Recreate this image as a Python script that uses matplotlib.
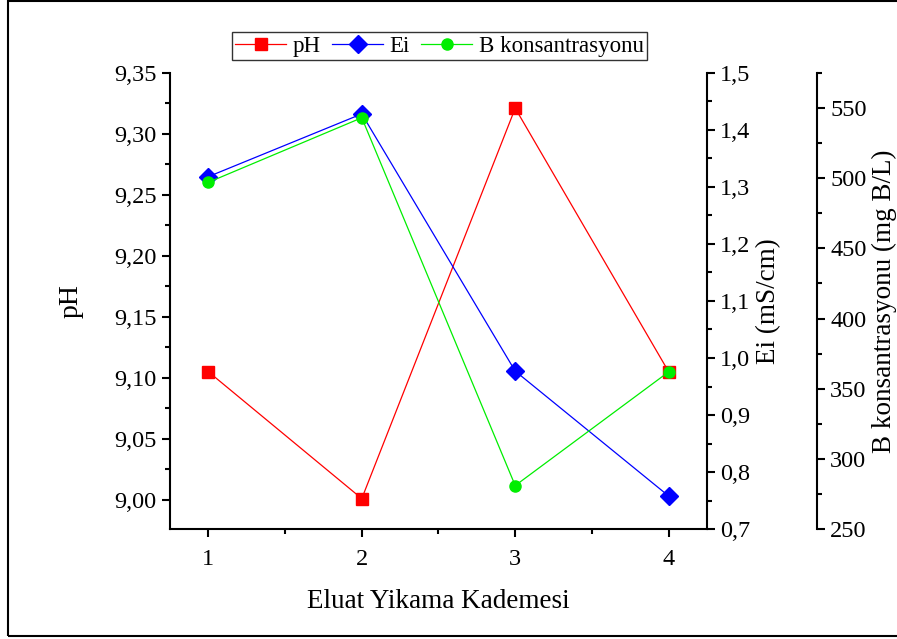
import numpy as np
import matplotlib.pyplot as plt
from matplotlib.ticker import MultipleLocator, FuncFormatter
from matplotlib.patches import Rectangle

plt.rcParams['font.family'] = ['Liberation Serif', 'DejaVu Serif']

# data
kademe = [1, 2, 3, 4]
ph = [9.105, 9.001, 9.321, 9.105]
ei = [1.318, 1.428, 0.977, 0.758]
bkons = [497, 543, 281, 362]


def comma(fmt):
    return FuncFormatter(lambda v, p: (fmt % v).replace('.', ','))


fig = plt.figure(figsize=(8.97, 6.39), dpi=100)
ax = fig.add_axes([0.1895, 0.172, 0.5987, 0.714])
ax2 = ax.twinx()
ax3 = ax.twinx()
ax3.spines['right'].set_position(('axes', 1.205))

l1, = ax.plot(kademe, ph, '-s', color='red', lw=0.9, ms=9, label='pH')
l2, = ax2.plot(kademe, ei, '-D', color='blue', lw=0.9, ms=9, label='Ei')
l3, = ax3.plot(kademe, bkons, '-o', color='#00ee00', lw=0.9, ms=8,
               label='B konsantrasyonu')

ax.set_xlim(0.75, 4.25)
ax.set_ylim(8.976, 9.35)
ax2.set_ylim(0.7, 1.5)
ax3.set_ylim(250, 575)

ax.xaxis.set_major_locator(MultipleLocator(1))
ax.xaxis.set_minor_locator(MultipleLocator(0.5))
ax.yaxis.set_major_locator(MultipleLocator(0.05))
ax.yaxis.set_minor_locator(MultipleLocator(0.025))
ax.yaxis.set_major_formatter(comma('%.2f'))
ax2.yaxis.set_major_locator(MultipleLocator(0.1))
ax2.yaxis.set_minor_locator(MultipleLocator(0.05))
ax2.yaxis.set_major_formatter(comma('%.1f'))
ax3.yaxis.set_major_locator(MultipleLocator(50))
ax3.yaxis.set_minor_locator(MultipleLocator(25))

for a in (ax, ax2, ax3):
    a.spines['top'].set_visible(False)
    for s in a.spines.values():
        s.set_linewidth(1.5)
    a.tick_params(which='major', direction='out', length=6, width=1.5,
                  labelsize=17.5)
    a.tick_params(which='minor', direction='out', length=3.5, width=1.5)
ax.spines['right'].set_visible(False)
ax2.spines['left'].set_visible(False)
ax3.spines['left'].set_visible(False)
ax3.spines['bottom'].set_visible(False)
ax2.spines['bottom'].set_visible(False)

ax.tick_params(axis='x', pad=8)
ax.set_xlabel('Eluat Yikama Kademesi', fontsize=19.5, labelpad=14)
ax.set_ylabel('pH', fontsize=20, labelpad=22)
ax2.set_ylabel('Ei (mS/cm)', fontsize=19.5, labelpad=4)
ax3.set_ylabel('B konsantrasyonu (mg B/L)', fontsize=19.5, labelpad=4)

leg = fig.legend(handles=[l1, l2, l3], loc='center',
                 bbox_to_anchor=(0.49, 0.928), ncol=3, fontsize=16.5,
                 frameon=True, fancybox=False, edgecolor='black',
                 handlelength=2.2, handletextpad=0.3, columnspacing=0.5,
                 borderpad=0.15, borderaxespad=0)
leg.get_frame().set_linewidth(1.0)

fig.patches.append(Rectangle((8 / 897, 3 / 639), 1.0, 635 / 639,
                             transform=fig.transFigure, fill=False,
                             edgecolor='black', lw=1.5))

fig.savefig('out.png', dpi=100)
